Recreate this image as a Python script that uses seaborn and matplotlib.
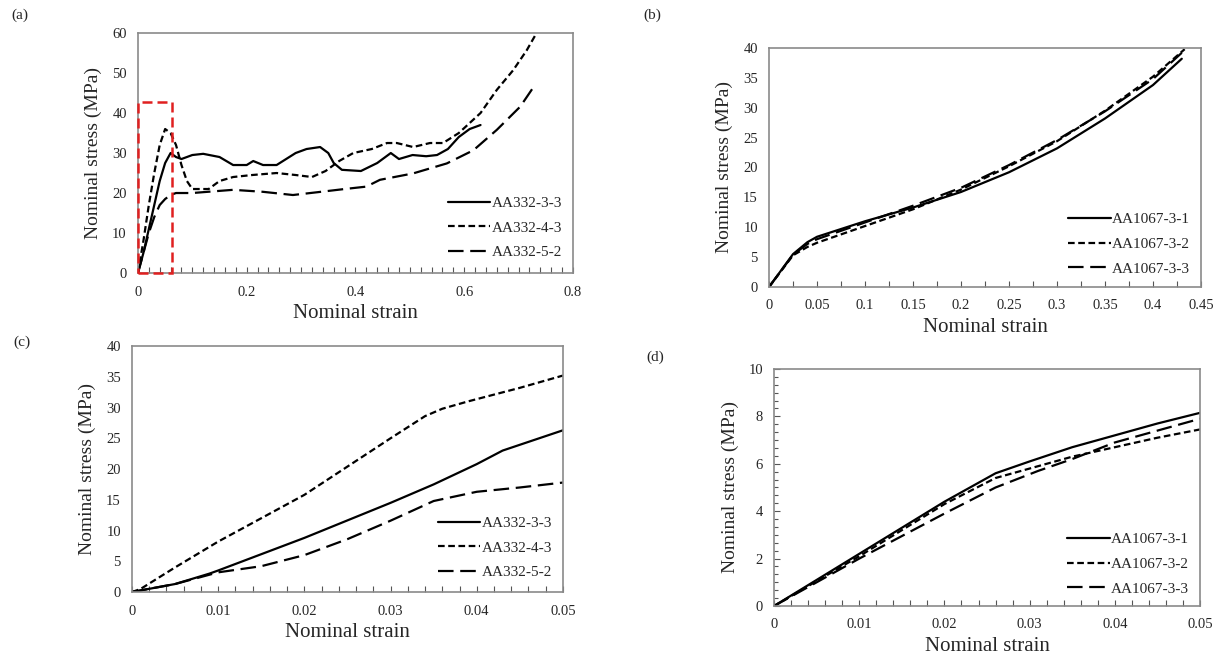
import matplotlib
matplotlib.use('Agg')
import matplotlib.pyplot as plt
import seaborn as sns
from matplotlib.ticker import MultipleLocator, FuncFormatter
from matplotlib.patches import Rectangle

# (a) AA332 full curves
a_x1 = [0, 0.01, 0.02, 0.03, 0.04, 0.05, 0.06, 0.07, 0.08, 0.1, 0.12, 0.15, 0.175, 0.2, 0.212, 0.23, 0.255, 0.29, 0.31, 0.335, 0.35, 0.36, 0.375, 0.41, 0.44, 0.465, 0.48, 0.505, 0.53, 0.55, 0.57, 0.59, 0.61, 0.63]
a_y1 = [0, 5, 11, 17, 23, 27.5, 30, 29, 28.5, 29.5, 29.8, 29, 27, 27, 28, 27, 27, 30, 31, 31.5, 30, 27.5, 25.8, 25.5, 27.5, 30, 28.5, 29.5, 29.2, 29.5, 31, 34, 36, 37]
a_x2 = [0, 0.01, 0.02, 0.03, 0.04, 0.05, 0.06, 0.07, 0.08, 0.09, 0.1, 0.13, 0.15, 0.175, 0.21, 0.255, 0.29, 0.32, 0.345, 0.37, 0.396, 0.43, 0.458, 0.476, 0.506, 0.537, 0.561, 0.59, 0.63, 0.66, 0.69, 0.715, 0.733]
a_y2 = [0, 8, 17, 25, 32, 36, 35, 32, 27, 23, 21, 21, 23, 24, 24.5, 25, 24.5, 24, 25.5, 28, 30, 31, 32.5, 32.5, 31.5, 32.5, 32.5, 35, 40, 45.8, 50.7, 55.7, 60]
a_x3 = [0, 0.01, 0.02, 0.03, 0.04, 0.05, 0.06, 0.07, 0.1, 0.175, 0.23, 0.285, 0.33, 0.38, 0.42, 0.445, 0.506, 0.568, 0.617, 0.66, 0.703, 0.73]
a_y3 = [0, 5, 10, 14, 17, 18.5, 19.5, 20, 20, 20.8, 20.3, 19.5, 20.2, 21, 21.6, 23.3, 24.9, 27.4, 30.7, 35.8, 41.6, 47]
a_labels = ['AA332-3-3', 'AA332-4-3', 'AA332-5-2']

# (b) AA1067 full curves
b_x1 = [0, 0.025, 0.04, 0.05, 0.1, 0.15, 0.2, 0.25, 0.3, 0.35, 0.4, 0.43]
b_y1 = [0, 5.5, 7.5, 8.4, 11, 13.3, 15.9, 19.2, 23.2, 28.2, 33.8, 38.2]
b_x2 = [0, 0.025, 0.04, 0.05, 0.1, 0.15, 0.2, 0.25, 0.3, 0.35, 0.4, 0.433]
b_y2 = [0, 5.3, 6.7, 7.4, 10.2, 13.0, 16.3, 20.2, 24.4, 29.5, 35.2, 39.8]
b_x3 = [0, 0.025, 0.04, 0.05, 0.1, 0.15, 0.2, 0.25, 0.3, 0.35, 0.4, 0.43]
b_y3 = [0, 5.4, 7.2, 8.0, 10.8, 13.6, 16.6, 20.4, 24.6, 29.4, 34.8, 39.2]
b_labels = ['AA1067-3-1', 'AA1067-3-2', 'AA1067-3-3']

# (c) AA332 initial part
c_x1 = [0, 0.005, 0.009, 0.01, 0.02, 0.03, 0.035, 0.04, 0.043, 0.05]
c_y1 = [0, 1.3, 3.0, 3.5, 8.8, 14.5, 17.5, 20.8, 23, 26.3]
c_x2 = [0, 0.001, 0.005, 0.01, 0.02, 0.03, 0.034, 0.036, 0.039, 0.045, 0.05]
c_y2 = [0, 0.5, 4.0, 8.2, 15.8, 25.0, 28.6, 29.8, 31.0, 33.2, 35.2]
c_x3 = [0, 0.005, 0.01, 0.015, 0.02, 0.025, 0.03, 0.035, 0.04, 0.045, 0.05]
c_y3 = [0, 1.3, 3.2, 4.2, 6.0, 8.6, 11.6, 14.8, 16.3, 17.0, 17.8]

# (d) AA1067 initial part
d_x1 = [0, 0.01, 0.02, 0.026, 0.03, 0.035, 0.04, 0.045, 0.05]
d_y1 = [0, 2.2, 4.4, 5.6, 6.1, 6.7, 7.2, 7.7, 8.15]
d_x2 = [0, 0.01, 0.02, 0.026, 0.03, 0.035, 0.04, 0.045, 0.05]
d_y2 = [0, 2.1, 4.3, 5.4, 5.8, 6.3, 6.7, 7.1, 7.45]
d_x3 = [0, 0.01, 0.02, 0.026, 0.031, 0.035, 0.04, 0.045, 0.05]
d_y3 = [0, 2.0, 3.9, 5.0, 5.7, 6.2, 6.9, 7.4, 7.9]

styles = ['-', (0, (3, 1.6)), (0, (7, 3))]

sns.set_style('white')
plt.rcParams['font.family'] = ['Liberation Serif', 'DejaVu Serif']

fig = plt.figure(figsize=(12.23, 6.62), dpi=100)

panels = [
    dict(pos=[0.1128, 0.5876, 0.3557, 0.3625], data=[(a_x1, a_y1), (a_x2, a_y2), (a_x3, a_y3)],
         labels=a_labels, xlim=(0, 0.8), xmaj=0.2, xmin=0.02, ylim=(0, 60), ymaj=10, ymin=None,
         leg=(1.0, 0.012), tag='(a)', tagpos=(0.016, 0.977)),
    dict(pos=[0.6288, 0.5665, 0.3532, 0.361], data=[(b_x1, b_y1), (b_x2, b_y2), (b_x3, b_y3)],
         labels=b_labels, xlim=(0, 0.45), xmaj=0.05, xmin=0.025, ylim=(0, 40), ymaj=5, ymin=None,
         leg=(1.0, 0.003), tag='(b)', tagpos=(0.533, 0.977)),
    dict(pos=[0.1079, 0.1057, 0.3524, 0.3716], data=[(c_x1, c_y1), (c_x2, c_y2), (c_x3, c_y3)],
         labels=a_labels, xlim=(0, 0.05), xmaj=0.01, xmin=0.002, ylim=(0, 40), ymaj=5, ymin=None,
         leg=(1.0, 0.008), tag='(c)', tagpos=(0.018, 0.483)),
    dict(pos=[0.6329, 0.0846, 0.3483, 0.358], data=[(d_x1, d_y1), (d_x2, d_y2), (d_x3, d_y3)],
         labels=b_labels, xlim=(0, 0.05), xmaj=0.01, xmin=0.002, ylim=(0, 10), ymaj=2, ymin=1 / 3,
         leg=(1.0, -0.002), tag='(d)', tagpos=(0.536, 0.461)),
]

fmt = FuncFormatter(lambda v, p: f'{v:g}')

for p in panels:
    ax = fig.add_axes(p['pos'])
    for (xs, ys), ls, lab in zip(p['data'], styles, p['labels']):
        sns.lineplot(x=xs, y=ys, ax=ax, color='black', linewidth=1.6, linestyle=ls,
                     label=lab, sort=False, estimator=None)
    ax.set_xlim(*p['xlim'])
    ax.set_ylim(*p['ylim'])
    ax.xaxis.set_major_locator(MultipleLocator(p['xmaj']))
    ax.xaxis.set_minor_locator(MultipleLocator(p['xmin']))
    ax.yaxis.set_major_locator(MultipleLocator(p['ymaj']))
    if p['ymin']:
        ax.yaxis.set_minor_locator(MultipleLocator(p['ymin']))
    ax.xaxis.set_major_formatter(fmt)
    ax.yaxis.set_major_formatter(fmt)
    ax.tick_params(axis='x', which='both', direction='in', bottom=True, length=4, width=0.8,
                   color='#555555', labelsize=10.5, pad=9)
    ax.tick_params(axis='y', which='both', direction='in', left=True, length=3, width=0.8,
                   color='#555555', labelsize=10.5, pad=8)
    ax.tick_params(axis='y', which='major', length=0 if p['ymin'] is None else 4)
    for s in ax.spines.values():
        s.set_color('#8a8a8a')
        s.set_linewidth(1.2)
    ax.set_xlabel('Nominal strain', fontsize=15, labelpad=4)
    ax.set_ylabel('Nominal stress (MPa)', fontsize=14, labelpad=7)
    ax.legend(loc='lower right', bbox_to_anchor=p['leg'], frameon=False, fontsize=11,
              handlelength=2.8, handletextpad=0.1, labelspacing=0.72, borderaxespad=0.3)
    fig.text(p['tagpos'][0], p['tagpos'][1], p['tag'], fontsize=11, ha='center', va='center')
    if p['tag'] == '(a)':
        ax.add_patch(Rectangle((0, 0), 0.0625, 42.8, fill=False, edgecolor='#e02020',
                               linestyle=(0, (4, 2)), linewidth=1.8, zorder=5, clip_on=False))

fig.savefig('out.png', dpi=100)
